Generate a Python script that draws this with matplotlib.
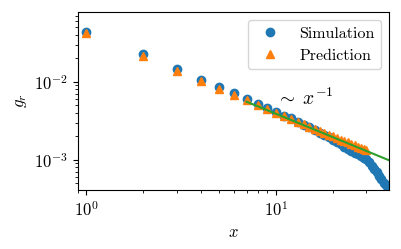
import matplotlib
matplotlib.use("Agg")
import matplotlib.pyplot as plt
import numpy as np

plt.rcParams.update({
    "font.family": "serif",
    "font.serif": ["cmr10"],
    "mathtext.fontset": "cm",
    "axes.formatter.use_mathtext": True,
    "font.size": 12,
})

# Simulation data (x = 1..42)
sim_x = list(range(1, 43))
sim_y = [0.0443, 0.0225, 0.0146, 0.0107, 0.0085, 0.0071, 0.0060, 0.0052, 0.0046, 0.0041,
         0.0037, 0.0034, 0.00305, 0.0028, 0.0026, 0.00241, 0.00224, 0.00208, 0.00194, 0.00181,
         0.00169, 0.00158, 0.00148, 0.00139, 0.00131, 0.00124, 0.00118, 0.00112, 0.00107, 0.00102,
         0.00093, 0.00084, 0.00076, 0.00069, 0.00062, 0.00056, 0.00051, 0.00047, 0.00043, 0.00039,
         0.00036, 0.00033]

# Prediction data (x = 1..30)
pred_x = list(range(1, 31))
pred_y = [0.0420, 0.0212, 0.0139, 0.0103, 0.0082, 0.0068, 0.0058, 0.0050, 0.0045, 0.0040,
          0.00365, 0.00335, 0.00308, 0.00286, 0.00267, 0.00250, 0.00236, 0.00223, 0.00211, 0.00200,
          0.00191, 0.00182, 0.00174, 0.00167, 0.00160, 0.00154, 0.00148, 0.00143, 0.00138, 0.00134]

# Guide line ~ x^-1
guide_x = [7, 45]
guide_coef = 0.039

fig = plt.figure(figsize=(4.01, 2.49), dpi=100)
ax = fig.add_axes([0.194, 0.237, 0.776, 0.715])

ax.plot(sim_x, sim_y, "o", color="C0", label="Simulation")
ax.plot(pred_x, pred_y, "^", color="C1", label="Prediction")
gx = np.array(guide_x, dtype=float)
ax.plot(gx, guide_coef / gx, "-", color="C2", lw=1.5)

ax.set_xscale("log")
ax.set_yscale("log")
ax.set_xlim(0.9, 39.5)
ax.set_ylim(4.1e-4, 0.079)
ax.set_xlabel("$x$")
ax.set_ylabel("$g_r$")
ax.text(10.0, 6.2e-3, r"$\sim\;x^{-1}$", fontsize=14, va="center", ha="left")
ax.legend(loc="upper right", fontsize=11.5)

fig.savefig("out.png", dpi=100)
